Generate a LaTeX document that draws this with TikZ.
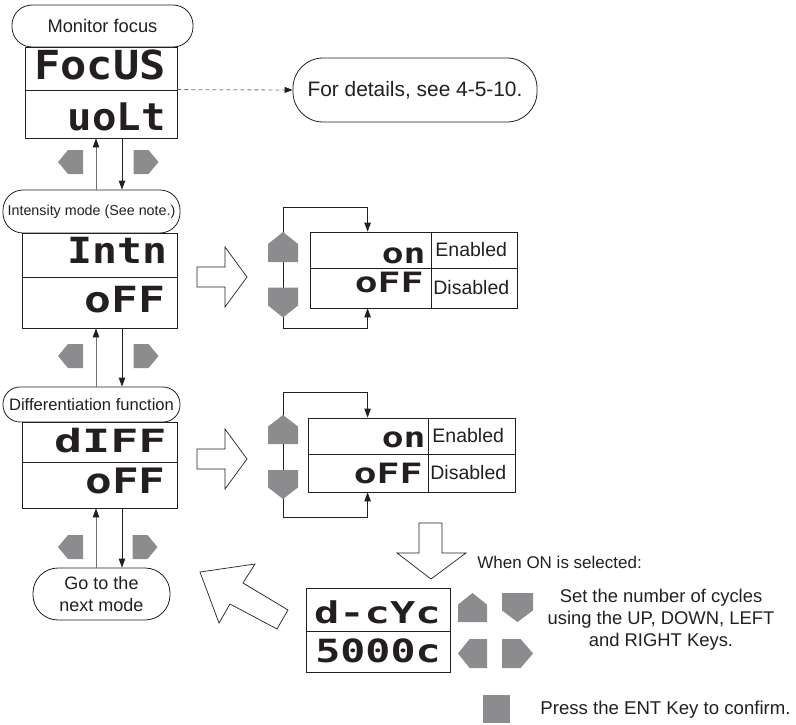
\documentclass[tikz,border=0pt]{standalone}
\usepackage{fontspec}
\setmainfont{Liberation Sans}
\newfontfamily\segfont{DejaVu Sans Mono}
\usetikzlibrary{arrows.meta}
\definecolor{keygray}{RGB}{140,140,142}
\definecolor{ink}{RGB}{35,31,32}
\newcommand\pxf[1]{\fontsize{#1}{#1}\selectfont}
\newcommand\segtxt[3]{\scalebox{#2}[1]{\fontsize{#1}{#1}\selectfont\segfont\bfseries #3}}
\begin{document}
\begin{tikzpicture}[x=1pt,y=-1pt,line width=0.8pt,
  every node/.style={text=ink},
  lbl/.style={draw=ink,fill=white,rectangle,inner sep=0pt},
  cell/.style={draw=ink,rectangle,inner sep=0pt},
  seg/.style={anchor=base east,inner sep=0pt},
  txt/.style={inner sep=0pt},
  uparr/.style={draw=black!55,-{Triangle[length=9pt,width=6.5pt,color=ink]}},
  dnarr/.style={draw=ink,-{Triangle[length=9pt,width=6.5pt]}},
  hollow/.style={draw=ink,fill=white,line width=0.7pt,line join=miter},
  keyL/.pic={\fill[keygray] (-1,0) -- (-0.2,-1) -- (1,-1) -- (1,1) -- (-0.2,1) -- cycle;},
  keyU/.pic={\fill[keygray] (0,-1) -- (1,-0.2) -- (1,1) -- (-1,1) -- (-1,-0.2) -- cycle;}
]
\useasboundingbox (0,0) rectangle (796,725);

% ---------- stage 1: monitor focus
\node[lbl,minimum width=181,minimum height=42,rounded corners=20,font=\pxf{18.3}] (monlbl) at (102.5,26) {Monitor focus};
\node[cell,minimum width=152,minimum height=43] (focA) at (101,68.5) {};
\node[cell,minimum width=152,minimum height=48] (focB) at (101,114) {};
\node[seg] (focT) at (166,80) {\segtxt{40}{1.09}{FocUS}};
\node[seg] (voltT) at (166,130) {\segtxt{38}{1.07}{uoLt}};

\node[lbl,minimum width=244,minimum height=64,rounded corners=30,font=\pxf{20.9}] (details) at (415,90) {For details, see 4-5-10.};
\draw[black!55,dash pattern=on 4pt off 3pt,-{Triangle[length=8pt,width=6pt,color=ink]}] (focB.north east) -- (details.west);

% ---------- stage 2: intensity mode
\node[lbl,minimum width=177,minimum height=43,rounded corners=20,font=\pxf{14.3}] (intlbl) at (91.5,211.5) {Intensity mode (See note.)};
\node[cell,minimum width=155,minimum height=44] (intA) at (99.5,255) {};
\node[cell,minimum width=155,minimum height=51] (intB) at (99.5,302.5) {};
\node[seg] (intT) at (168,263) {\segtxt{36}{1.15}{Intn}};
\node[seg] (intOff) at (166,312) {\segtxt{36}{1.24}{oFF}};

\pic[xscale=12.5,yscale=12] at (70.5,162) {keyL};
\pic[xscale=-12.5,yscale=12] at (146,162) {keyL};
\draw[uparr] ([xshift=4.5]intlbl.north) -- ([xshift=-5]focB.south);
\draw[dnarr] ([xshift=21]focB.south) -- ([xshift=30.5]intlbl.north);

\draw[hollow] (197,267) -- (225,267) -- (225,247) -- (247,277) -- (225,307) -- (225,287) -- (197,287) -- cycle;

% option block 1
\coordinate (t1) at (283,207);
\coordinate (b1) at (283,328);
\draw[ink] (t1) -- (b1);
\node[cell,minimum width=121,minimum height=36] (on1) at (370.5,250) {};
\node[cell,minimum width=86,minimum height=36] (en1) at (474,250) {};
\node[cell,minimum width=121,minimum height=40] (off1) at (370.5,288) {};
\node[cell,minimum width=86,minimum height=40] (dis1) at (474,288) {};
\draw[dnarr] (t1) -| ([xshift=58]on1.north west);
\draw[dnarr] (b1) -| ([xshift=58]off1.south west);
\pic[xscale=15,yscale=15] at (283,247) {keyU};
\pic[xscale=15,yscale=-15] at (283,302.5) {keyU};
\node[seg] (on1T) at (426,263) {\segtxt{28}{1.3}{on}};
\node[seg] (off1T) at (424,292) {\segtxt{28}{1.36}{oFF}};
\node[txt,anchor=west,font=\pxf{19.5}] (en1T) at (435,250) {Enabled};
\node[txt,anchor=west,font=\pxf{19.5}] (dis1T) at (433,288) {Disabled};

% ---------- stage 3: differentiation
\node[lbl,minimum width=177,minimum height=35,rounded corners=17,font=\pxf{16.6}] (difflbl) at (91.5,404.5) {Differentiation function};
\node[cell,minimum width=155,minimum height=40] (diffA) at (99.5,442) {};
\node[cell,minimum width=155,minimum height=46] (diffB) at (99.5,485) {};
\node[seg] (diffT) at (167,452) {\segtxt{32}{1.46}{dIFF}};
\node[seg] (diffOff) at (166,493) {\segtxt{35}{1.27}{oFF}};

\pic[xscale=12.5,yscale=12] at (70.5,356) {keyL};
\pic[xscale=-12.5,yscale=12] at (146,356) {keyL};
\draw[uparr] ([xshift=4.5]difflbl.north) -- ([xshift=-3.5]intB.south);
\draw[dnarr] ([xshift=22.5]intB.south) -- ([xshift=30.5]difflbl.north);

\draw[hollow] (197,449) -- (225,449) -- (225,429) -- (247,459) -- (225,489) -- (225,469) -- (197,469) -- cycle;

% option block 2
\coordinate (t2) at (283,392);
\coordinate (b2) at (283,517);
\draw[ink] (t2) -- (b2);
\node[cell,minimum width=120,minimum height=36] (on2) at (368,436) {};
\node[cell,minimum width=87,minimum height=36] (en2) at (471.5,436) {};
\node[cell,minimum width=120,minimum height=38] (off2) at (368,473) {};
\node[cell,minimum width=87,minimum height=38] (dis2) at (471.5,473) {};
\draw[dnarr] (t2) -| ([xshift=60]on2.north west);
\draw[dnarr] (b2) -| ([xshift=60]off2.south west);
\pic[xscale=15,yscale=14.5] at (283,429.5) {keyU};
\pic[xscale=15,yscale=-14.5] at (283,484.5) {keyU};
\node[seg] (on2T) at (426,447) {\segtxt{28}{1.3}{on}};
\node[seg] (off2T) at (423,483) {\segtxt{28}{1.36}{oFF}};
\node[txt,anchor=west,font=\pxf{19.5}] (en2T) at (432,436) {Enabled};
\node[txt,anchor=west,font=\pxf{19.5}] (dis2T) at (430,473) {Disabled};

% ---------- go to next mode
\node[lbl,minimum width=137,minimum height=52,rounded corners=25,align=center,font=\fontsize{18}{22}\selectfont] (go) at (101.5,594) {Go to the\\next mode};
\pic[xscale=12.5,yscale=12] at (70.5,547) {keyL};
\pic[xscale=-12.5,yscale=12] at (145,547) {keyL};
\draw[uparr] ([xshift=-5.5]go.north) -- ([xshift=-3.5]diffB.south);
\draw[dnarr] ([xshift=22.5]diffB.south) -- ([xshift=20.5]go.north);

% ---------- when ON selected
\draw[hollow] (419,523) -- (442,523) -- (442,553) -- (466,553) -- (431,579) -- (397,553) -- (419,553) -- cycle;
\node[txt,anchor=west,font=\pxf{17}] (whenT) at (477,562) {When ON is selected:};

\draw[hollow] (200,572) -- (255,564) -- (243,583) -- (288,610) -- (277,629) -- (230,604) -- (219,623) -- cycle;

\node[cell,minimum width=144,minimum height=43] (cycA) at (378,609.5) {};
\node[cell,minimum width=144,minimum height=41] (cycB) at (378,651.5) {};
\node[seg] (cycT) at (441,623) {\segtxt{30}{1.4}{d-cYc}};
\node[seg] (cycV) at (441,662) {\segtxt{32}{1.3}{5000c}};

\pic[xscale=14.5,yscale=14.5] at (472.5,607.5) {keyU};
\pic[xscale=15.5,yscale=-14.5] at (517.5,607.5) {keyU};
\pic[xscale=14.5,yscale=14.5] at (472.5,653.5) {keyL};
\pic[xscale=-15.5,yscale=14.5] at (517.5,653.5) {keyL};

\node[txt,align=center,font=\fontsize{18.4}{22}\selectfont] (setT) at (661,620) {Set the number of cycles\\using the UP, DOWN, LEFT\\and RIGHT Keys.};

\fill[keygray] (483,695) rectangle (510,723);
\node[txt,anchor=west,font=\pxf{18.6}] (pressT) at (540,710) {Press the ENT Key to confirm.};
\end{tikzpicture}
\end{document}
